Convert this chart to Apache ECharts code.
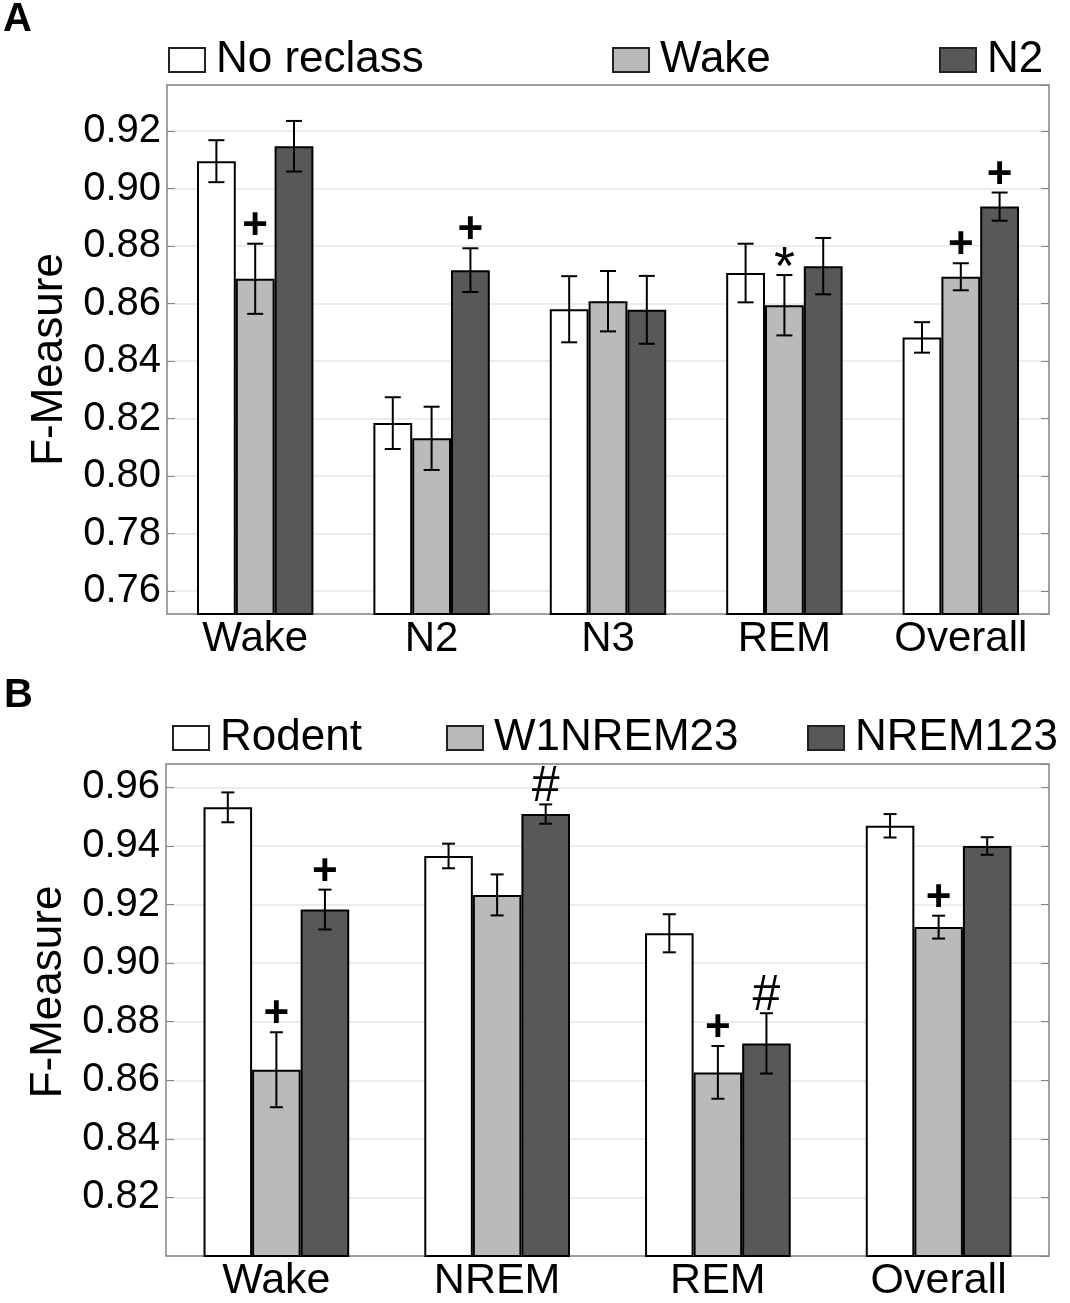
<!DOCTYPE html>
<html>
<head>
<meta charset="utf-8">
<script src="https://cdn.jsdelivr.net/npm/echarts@6.0.0/dist/echarts.min.js"></script>
<style>
  html, body { margin: 0; padding: 0; background: #fff; }
  #chart { width: 1070px; height: 1303px; }
</style>
</head>
<body>
<div id="chart"></div>
<script>
// panel A
const catsA = ['Wake', 'N2', 'N3', 'REM', 'Overall'];
const noReclass = [0.9095, 0.8184, 0.8580, 0.8706, 0.8482];
const noReclassErr = [0.0073, 0.0090, 0.0115, 0.0102, 0.0053];
const noReclassMark = ['', '', '', '', ''];
const wakeRe = [0.8686, 0.8131, 0.8608, 0.8594, 0.8693];
const wakeReErr = [0.0122, 0.0110, 0.0105, 0.0105, 0.0047];
const wakeReMark = ['+', '', '', '*', '+'];
const n2Re = [0.9147, 0.8716, 0.8578, 0.8730, 0.8937];
const n2ReErr = [0.0088, 0.0076, 0.0118, 0.0098, 0.0049];
const n2ReMark = ['', '+', '', '', '+'];

// panel B
const catsB = ['Wake', 'NREM', 'REM', 'Overall'];
const rodent = [0.9532, 0.9366, 0.9102, 0.9469];
const rodentErr = [0.0051, 0.0042, 0.0065, 0.0040];
const rodentMark = ['', '', '', ''];
const w1nrem23 = [0.8636, 0.9233, 0.8627, 0.9123];
const w1nrem23Err = [0.0128, 0.0070, 0.0090, 0.0039];
const w1nrem23Mark = ['+', '', '+', '+'];
const nrem123 = [0.9183, 0.9509, 0.8726, 0.9400];
const nrem123Err = [0.0068, 0.0033, 0.0103, 0.0030];
const nrem123Mark = ['+', '#', '#', ''];

const FONT = 'Liberation Sans, Arial, sans-serif';
const CAT_GAP = 0.34;
const colors = ['#ffffff', '#bababa', '#585858'];
const frameColor = '#858585';

// taille / decalage des symboles de significance
function markStyle(m) {
    if (m === '+') return { size: 44, weight: 'bold', dy: 0 };
    if (m === '*') return { size: 54, weight: 'normal', dy: 11 };
    return { size: 50, weight: 'normal', dy: 0 };
}

function errRenderer(k, marks, capW) {
    return function (params, api) {
        const i = api.value(0), v = api.value(1), e = api.value(2);
        const band = api.size([1, 0])[0];
        const bw = band * (1 - CAT_GAP) / 3;
        const x = api.coord([i, v])[0] + (k - 1) * bw;
        const yt = api.coord([i, v + e])[1];
        const yb = api.coord([i, v - e])[1];
        const st = { stroke: '#000', lineWidth: 2 };
        const kids = [
            { type: 'line', shape: { x1: x, y1: yt, x2: x, y2: yb }, style: st },
            { type: 'line', shape: { x1: x - capW / 2, y1: yt, x2: x + capW / 2, y2: yt }, style: st },
            { type: 'line', shape: { x1: x - capW / 2, y1: yb, x2: x + capW / 2, y2: yb }, style: st }
        ];
        const m = marks[params.dataIndex];
        if (m) {
            const ms = markStyle(m);
            kids.push({
                type: 'text',
                style: {
                    text: m,
                    x: x,
                    y: yt - 17 + ms.dy,
                    align: 'center',
                    verticalAlign: 'middle',
                    fontSize: ms.size,
                    fontWeight: ms.weight,
                    fontFamily: FONT,
                    fill: '#000'
                }
            });
        }
        return { type: 'group', children: kids };
    };
}

function barSeries(name, vals, k, grid) {
    return {
        name: name,
        type: 'bar',
        xAxisIndex: grid * 2,
        yAxisIndex: grid * 2,
        data: vals,
        barGap: '0%',
        barCategoryGap: (CAT_GAP * 100) + '%',
        itemStyle: { color: colors[k], borderColor: '#000', borderWidth: 2 },
        z: 2
    };
}

function errSeries(vals, errs, marks, k, grid, capW) {
    return {
        type: 'custom',
        name: 'err' + grid + k,
        xAxisIndex: grid * 2,
        yAxisIndex: grid * 2,
        data: vals.map((v, i) => [i, v, errs[i]]),
        encode: { x: 0, y: 1 },
        renderItem: errRenderer(k, marks, capW),
        z: 5,
        silent: true
    };
}

function xAxes(cats, grid, labelSize, margin) {
    return [
        {
            type: 'category', gridIndex: grid, data: cats, position: 'bottom',
            axisLine: { lineStyle: { color: frameColor, width: 1.5 } },
            axisTick: { show: false },
            axisLabel: { color: '#000', fontSize: labelSize, fontFamily: FONT, margin: margin }
        },
        {
            type: 'category', gridIndex: grid, data: cats, position: 'top',
            axisLine: { lineStyle: { color: frameColor, width: 1.5 } },
            axisTick: { inside: true, alignWithLabel: true, length: 6, lineStyle: { color: frameColor } },
            axisLabel: { show: false }
        }
    ];
}

function yAxes(grid, min, max, namePad) {
    const common = {
        type: 'value', gridIndex: grid, min: min, max: max,
        splitNumber: 9, minInterval: 0.02, maxInterval: 0.02
    };
    return [
        Object.assign({}, common, {
            position: 'left',
            name: 'F-Measure',
            nameLocation: 'middle',
            nameGap: 88,
            nameTextStyle: { color: '#000', fontSize: 44, fontFamily: FONT, padding: namePad },
            axisLine: { show: true, lineStyle: { color: frameColor, width: 1.5 } },
            axisTick: { show: true, inside: true, length: 8, lineStyle: { color: frameColor } },
            axisLabel: {
                color: '#000', fontSize: 40, fontFamily: FONT, margin: 6,
                showMinLabel: false, showMaxLabel: false,
                formatter: v => v.toFixed(2)
            },
            splitLine: { show: true, lineStyle: { color: '#e6e6e6', width: 1.5 } }
        }),
        Object.assign({}, common, {
            position: 'right',
            axisLine: { show: true, lineStyle: { color: frameColor, width: 1.5 } },
            axisTick: { show: true, inside: true, length: 8, lineStyle: { color: frameColor } },
            axisLabel: { show: false },
            splitLine: { show: false }
        })
    ];
}

function legendItem(name, left, top) {
    return {
        data: [name],
        left: left,
        top: top,
        padding: 0,
        icon: 'rect',
        itemWidth: 36,
        itemHeight: 24,
        selectedMode: false,
        itemStyle: { borderColor: '#222', borderWidth: 2 },
        textStyle: { color: '#000', fontSize: 44, fontFamily: FONT, padding: [0, 0, 0, 6] }
    };
}

const chart = echarts.init(document.getElementById('chart'));

const option = {
    animation: false,
    backgroundColor: '#fff',
    title: [
        { text: 'A', left: 3, top: 0, padding: 0, textStyle: { fontSize: 40, fontWeight: 'bold', fontFamily: FONT, color: '#000' } },
        { text: 'B', left: 4, top: 676, padding: 0, textStyle: { fontSize: 40, fontWeight: 'bold', fontFamily: FONT, color: '#000' } }
    ],
    legend: [
        legendItem('No reclass', 168, 38),
        legendItem('Wake', 612, 38),
        legendItem('N2', 939, 38),
        legendItem('Rodent', 172, 716),
        legendItem('W1NREM23', 446, 716),
        legendItem('NREM123', 807, 716)
    ],
    grid: [
        { left: 167, right: 21, top: 85, height: 529 },
        { left: 166, right: 21, top: 764, height: 496 }
    ],
    xAxis: [].concat(xAxes(catsA, 0, 42, 4), xAxes(catsB, 1, 43, 4)),
    yAxis: [].concat(yAxes(0, 0.752, 0.936, [0, 20, 0, 0]), yAxes(1, 0.80, 0.968, [0, 0, 0, 36])),
    series: [
        barSeries('No reclass', noReclass, 0, 0),
        barSeries('Wake', wakeRe, 1, 0),
        barSeries('N2', n2Re, 2, 0),
        errSeries(noReclass, noReclassErr, noReclassMark, 0, 0, 16),
        errSeries(wakeRe, wakeReErr, wakeReMark, 1, 0, 16),
        errSeries(n2Re, n2ReErr, n2ReMark, 2, 0, 16),
        barSeries('Rodent', rodent, 0, 1),
        barSeries('W1NREM23', w1nrem23, 1, 1),
        barSeries('NREM123', nrem123, 2, 1),
        errSeries(rodent, rodentErr, rodentMark, 0, 1, 13),
        errSeries(w1nrem23, w1nrem23Err, w1nrem23Mark, 1, 1, 13),
        errSeries(nrem123, nrem123Err, nrem123Mark, 2, 1, 13)
    ]
};

chart.setOption(option);
</script>
</body>
</html>
